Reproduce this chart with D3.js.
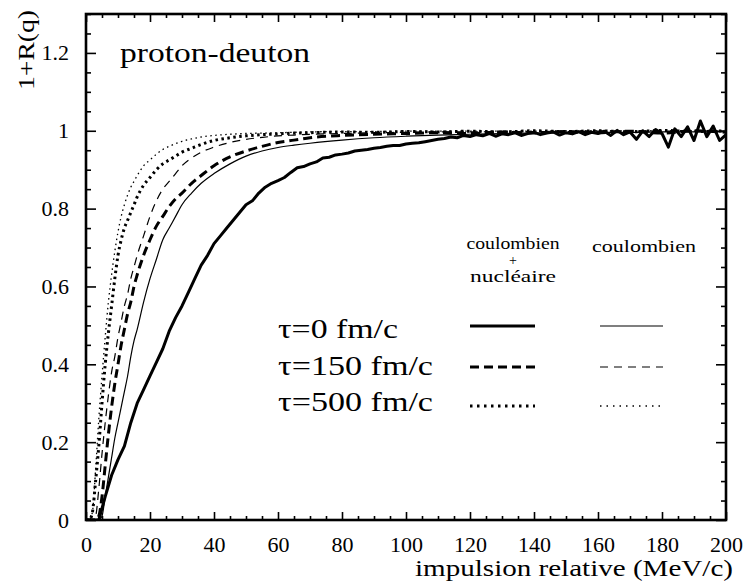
<!DOCTYPE html>
<html>
<head>
<meta charset="utf-8">
<script src="https://cdn.jsdelivr.net/npm/d3@7"></script>
</head>
<body style="margin:0;padding:0;background:#fff">
<svg id="chart" width="747" height="585" style="display:block;background:#fff"></svg>
<script>
// ---------- data ----------
const xMajorTicks = [0, 20, 40, 60, 80, 100, 120, 140, 160, 180, 200];
const yMajorTicks = [0, 0.2, 0.4, 0.6, 0.8, 1, 1.2];

// shared momentum grid (MeV/c) for the smooth curves
const qGrid = [0,1,2,3,4,5,6,7,8,9,10,11,12,13,14,15,16,18,20,22,24,26,28,30,33,36,40,45,50,55,60,65,70,80,90,100,110,120,130,140,150,160,170,180,190,200];

// coulombien, tau = 0 fm/c (thin solid)
const coulTau0 = [0,0,0,0,0,0.01,0.06,0.11,0.16,0.21,0.25,0.29,0.33,0.37,0.42,0.46,0.49,0.56,0.62,0.67,0.72,0.75,0.78,0.81,0.84,0.865,0.89,0.915,0.935,0.948,0.957,0.963,0.968,0.976,0.982,0.986,0.989,0.991,0.993,0.994,0.995,0.996,0.996,0.997,0.997,0.998];
// coulombien + nucleaire, tau = 150 fm/c (thick dashed)
const cnTau150 = [0,0,0,0,0.01,0.06,0.14,0.22,0.29,0.35,0.40,0.45,0.49,0.53,0.56,0.6,0.63,0.68,0.72,0.755,0.78,0.805,0.825,0.84,0.865,0.885,0.91,0.933,0.948,0.96,0.97,0.976,0.982,0.988,0.991,0.993,0.995,0.993,0.997,0.994,0.998,0.995,0.999,0.994,1.0,0.996];
// coulombien, tau = 150 fm/c (thin dashed)
const coulTau150 = [0,0,0,0.01,0.08,0.17,0.25,0.32,0.38,0.42,0.47,0.51,0.55,0.58,0.62,0.65,0.68,0.73,0.78,0.82,0.85,0.87,0.89,0.91,0.93,0.945,0.958,0.97,0.978,0.983,0.987,0.989,0.991,0.993,0.995,0.996,0.997,0.997,0.998,0.998,0.998,0.999,0.999,0.999,0.999,0.999];
// coulombien + nucleaire, tau = 500 fm/c (thick dotted)
const cnTau500 = [0,0,0.02,0.1,0.19,0.3,0.4,0.48,0.55,0.62,0.68,0.72,0.75,0.77,0.79,0.81,0.83,0.86,0.88,0.9,0.915,0.925,0.935,0.945,0.955,0.965,0.975,0.982,0.987,0.99,0.992,0.994,0.995,0.997,0.996,0.998,0.997,0.999,0.997,1.0,0.998,1.0,0.997,1.001,0.998,1.0];
// coulombien, tau = 500 fm/c (thin dotted)
const coulTau500 = [0,0,0.02,0.13,0.26,0.37,0.47,0.56,0.63,0.69,0.74,0.78,0.81,0.835,0.855,0.87,0.885,0.91,0.925,0.94,0.952,0.96,0.967,0.973,0.979,0.984,0.988,0.991,0.993,0.994,0.995,0.996,0.997,0.998,0.998,0.999,0.999,0.999,0.999,0.999,1.0,1.0,1.0,1.0,1.0,1.0];

// finer grid (every 2 MeV/c) for the noisy coulombien + nucleaire, tau = 0 curve
const qFine = d3.range(0, 201, 2);
const cnTau0 = [0,0,0,0.06,0.115,0.155,0.19,0.25,0.3,0.335,
  0.37,0.405,0.44,0.485,0.52,0.55,0.585,0.62,0.655,0.68,
  0.71,0.73,0.75,0.77,0.79,0.81,0.82,0.84,0.855,0.865,
  0.872,0.88,0.893,0.905,0.908,0.915,0.92,0.93,0.932,0.938,
  0.94,0.943,0.948,0.95,0.952,0.955,0.957,0.96,0.962,0.962,
  0.966,0.968,0.969,0.972,0.975,0.978,0.98,0.984,0.982,0.988,
  0.985,0.99,0.987,0.993,0.986,0.992,0.99,0.995,0.988,0.993,
  0.996,0.99,0.994,0.997,0.989,0.995,0.992,0.998,0.99,0.996,
  0.993,0.999,0.988,1.001,0.99,0.997,0.978,1.0,0.985,1.003,
  0.993,0.958,1.005,0.985,1.01,0.975,1.025,0.985,1.012,0.975,
  0.99];

const legendLabels = ["\u03c4=0 fm/c", "\u03c4=150 fm/c", "\u03c4=500 fm/c"];

// ---------- layout ----------
const FONT = '"Liberation Serif", "Times New Roman", Tinos, Times';
const svg = d3.select("#chart");
const L = 86, R = 726, T = 14, B = 520;
const x = d3.scaleLinear().domain([0, 200]).range([L, R]);
const y = d3.scaleLinear().domain([0, 1.3]).range([B, T]);

const xMinor = d3.range(0, 201, 5).filter(v => v % 20 !== 0);
const yMinor = d3.range(0, 1.3001, 0.05).map(v => +v.toFixed(2)).filter(v => Math.abs(v / 0.2 - Math.round(v / 0.2)) > 1e-6);

function styleAxis(g) {
  g.attr("font-family", null).attr("font-size", null);
  g.select(".domain").remove();
  g.selectAll(".tick line").attr("stroke", "#000").attr("stroke-width", 1.6);
  g.selectAll(".tick text").style("font-family", FONT).style("font-size", "22px").attr("fill", "#000");
}

// bottom
svg.append("g").attr("transform", `translate(0,${B})`)
  .call(d3.axisBottom(x).tickValues(xMajorTicks).tickSize(-8).tickPadding(16).tickFormat(d => String(d)))
  .call(styleAxis);
svg.append("g").attr("transform", `translate(0,${B})`)
  .call(d3.axisBottom(x).tickValues(xMinor).tickSize(-4).tickFormat(""))
  .call(styleAxis);
// top
svg.append("g").attr("transform", `translate(0,${T})`)
  .call(d3.axisTop(x).tickValues(xMajorTicks).tickSize(-8).tickFormat(""))
  .call(styleAxis);
svg.append("g").attr("transform", `translate(0,${T})`)
  .call(d3.axisTop(x).tickValues(xMinor).tickSize(-4).tickFormat(""))
  .call(styleAxis);
// left
svg.append("g").attr("transform", `translate(${L},0)`)
  .call(d3.axisLeft(y).tickValues(yMajorTicks).tickSize(-10).tickPadding(17).tickFormat(d => String(d)))
  .call(styleAxis);
svg.append("g").attr("transform", `translate(${L},0)`)
  .call(d3.axisLeft(y).tickValues(yMinor).tickSize(-5).tickFormat(""))
  .call(styleAxis);
// right
svg.append("g").attr("transform", `translate(${R},0)`)
  .call(d3.axisRight(y).tickValues(yMajorTicks).tickSize(-10).tickFormat(""))
  .call(styleAxis);
svg.append("g").attr("transform", `translate(${R},0)`)
  .call(d3.axisRight(y).tickValues(yMinor).tickSize(-5).tickFormat(""))
  .call(styleAxis);

// frame
svg.append("rect").attr("x", L).attr("y", T).attr("width", R - L).attr("height", B - T)
  .attr("fill", "none").attr("stroke", "#000").attr("stroke-width", 2.6);

// ---------- curves ----------
const clip = svg.append("clipPath").attr("id", "plotclip");
clip.append("rect").attr("x", L).attr("y", T).attr("width", R - L).attr("height", B - T);

const series = [
  { q: qGrid, v: coulTau500, w: 1.3, dash: "1.5,3.5", curve: d3.curveMonotoneX },
  { q: qGrid, v: cnTau500,   w: 3.0, dash: "2.5,3.5", curve: d3.curveMonotoneX },
  { q: qGrid, v: coulTau150, w: 1.2, dash: "8,6",     curve: d3.curveMonotoneX },
  { q: qGrid, v: cnTau150,   w: 3.0, dash: "9,5",     curve: d3.curveMonotoneX },
  { q: qGrid, v: coulTau0,   w: 1.2, dash: null,      curve: d3.curveMonotoneX },
  { q: qFine, v: cnTau0,     w: 3.0, dash: null,      curve: d3.curveLinear }
];

const plot = svg.append("g").attr("clip-path", "url(#plotclip)");
series.forEach(s => {
  const pts = s.q.map((q, i) => [q, s.v[i]]);
  const line = d3.line().x(d => x(d[0])).y(d => y(d[1])).curve(s.curve);
  plot.append("path").attr("d", line(pts)).attr("fill", "none")
    .attr("stroke", "#000").attr("stroke-width", s.w)
    .attr("stroke-linejoin", "round")
    .attr("stroke-dasharray", s.dash);
});

// ---------- texts ----------
function txt(sel, size) {
  return sel.append("text").style("font-family", FONT).style("font-size", size + "px").attr("fill", "#000");
}

txt(svg, 27).attr("x", 120).attr("y", 62)
  .attr("textLength", 190).attr("lengthAdjust", "spacingAndGlyphs").text("proton-deuton");

txt(svg, 24).attr("transform", "translate(34,50) rotate(-90)")
  .attr("text-anchor", "middle")
  .attr("textLength", 80).attr("lengthAdjust", "spacingAndGlyphs").text("1+R(q)");

txt(svg, 24).attr("x", 415).attr("y", 576)
  .attr("textLength", 318).attr("lengthAdjust", "spacingAndGlyphs").text("impulsion relative (MeV/c)");

// legend header
txt(svg, 16).attr("x", 513).attr("y", 249).attr("text-anchor", "middle")
  .attr("textLength", 93).attr("lengthAdjust", "spacingAndGlyphs").text("coulombien");
txt(svg, 14).attr("x", 513).attr("y", 265).attr("text-anchor", "middle").text("+");
txt(svg, 16).attr("x", 513).attr("y", 282).attr("text-anchor", "middle")
  .attr("textLength", 86).attr("lengthAdjust", "spacingAndGlyphs").text("nucléaire");
txt(svg, 16).attr("x", 644).attr("y", 252).attr("text-anchor", "middle")
  .attr("textLength", 104).attr("lengthAdjust", "spacingAndGlyphs").text("coulombien");

// legend rows
const rowLineY = [326, 367, 406];
const rowTextY = [338, 375, 411];
const rowWidths = [120, 155, 155];
const legendStyles = [
  { cn: { w: 3.0, dash: null },      co: { w: 1.2, dash: null } },
  { cn: { w: 3.0, dash: "9,5" },     co: { w: 1.2, dash: "8,6" } },
  { cn: { w: 3.0, dash: "2.5,4.5" }, co: { w: 1.3, dash: "1.5,5" } }
];
legendLabels.forEach((lab, i) => {
  txt(svg, 27).attr("x", 278).attr("y", rowTextY[i])
    .attr("textLength", rowWidths[i]).attr("lengthAdjust", "spacingAndGlyphs").text(lab);
  svg.append("line").attr("x1", 470).attr("x2", 535).attr("y1", rowLineY[i]).attr("y2", rowLineY[i])
    .attr("stroke", "#000").attr("stroke-width", legendStyles[i].cn.w).attr("stroke-dasharray", legendStyles[i].cn.dash);
  svg.append("line").attr("x1", 600).attr("x2", 663).attr("y1", rowLineY[i]).attr("y2", rowLineY[i])
    .attr("stroke", "#000").attr("stroke-width", legendStyles[i].co.w).attr("stroke-dasharray", legendStyles[i].co.dash);
});
</script>
</body>
</html>
